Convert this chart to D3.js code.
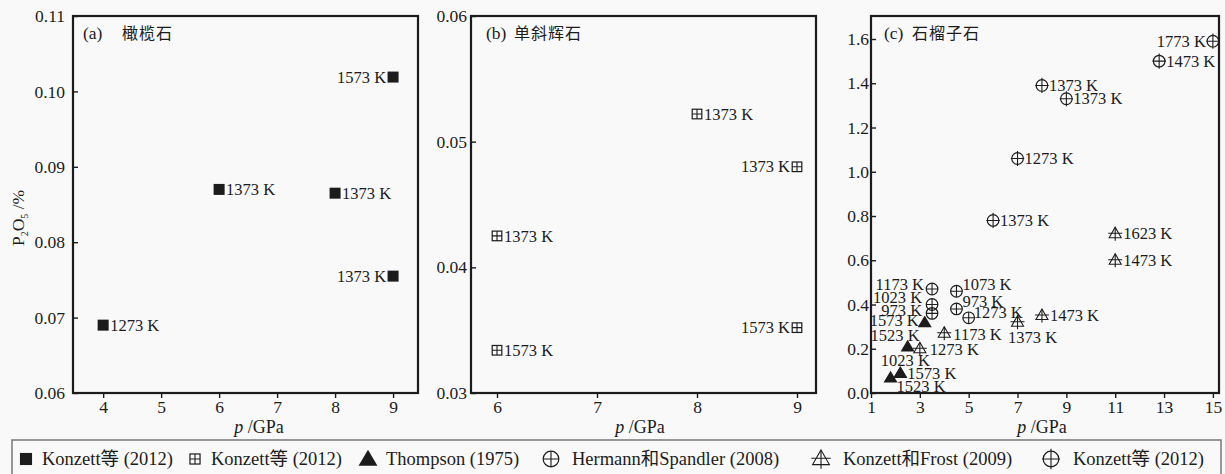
<!DOCTYPE html>
<html>
<head>
<meta charset="utf-8">
<script src="https://cdn.jsdelivr.net/npm/d3@7"></script>
<style>
    html, body { margin: 0; padding: 0; background: #f9f9f9; }
    svg { display: block; }
    text { font-family: "Liberation Serif", "Times New Roman", Times, "DejaVu Serif", "Noto Sans CJK SC", serif; fill: #1c1c1c; }
    .cjk { font-family: "Noto Sans CJK SC", sans-serif; }
</style>
</head>
<body>
<div id="chart"></div>
<script>
// ---- data (p in GPa, P2O5 in wt%) ----
var olivineKonzett = [
    { p: 4, v: 0.069, t: '1273 K' },
    { p: 6, v: 0.0870, t: '1373 K' },
    { p: 8, v: 0.0865, t: '1373 K' },
    { p: 9, v: 0.1019, t: '1573 K' },
    { p: 9, v: 0.0755, t: '1373 K' }
];
var cpxKonzett = [
    { p: 8, v: 0.0522, t: '1373 K' },
    { p: 9, v: 0.0480, t: '1373 K' },
    { p: 6, v: 0.0425, t: '1373 K' },
    { p: 9, v: 0.0352, t: '1573 K' },
    { p: 6, v: 0.0334, t: '1573 K' }
];
var garnetThompson = [
    { p: 3.2, v: 0.32, t: '1573 K' },
    { p: 2.5, v: 0.21, t: '1523 K' },
    { p: 2.2, v: 0.09, t: '1023 K' },
    { p: 2.2, v: 0.09, t: '1573 K' },
    { p: 1.8, v: 0.07, t: '1523 K' }
];
var garnetHermann = [
    { p: 3.5, v: 0.47, t: '1173 K' },
    { p: 3.5, v: 0.40, t: '1023 K' },
    { p: 3.5, v: 0.36, t: '973 K' },
    { p: 4.5, v: 0.46, t: '1073 K' },
    { p: 4.5, v: 0.38, t: '973 K' },
    { p: 5.0, v: 0.34, t: '1273 K' }
];
var garnetKonzettFrost = [
    { p: 3, v: 0.20, t: '1273 K' },
    { p: 4, v: 0.27, t: '1173 K' },
    { p: 7, v: 0.32, t: '1373 K' },
    { p: 8, v: 0.35, t: '1473 K' },
    { p: 11, v: 0.72, t: '1623 K' },
    { p: 11, v: 0.60, t: '1473 K' }
];
var garnetKonzett = [
    { p: 15, v: 1.59, t: '1773 K' },
    { p: 12.8, v: 1.50, t: '1473 K' },
    { p: 8, v: 1.39, t: '1373 K' },
    { p: 9, v: 1.33, t: '1373 K' },
    { p: 7, v: 1.06, t: '1273 K' },
    { p: 6, v: 0.78, t: '1373 K' }
];

var ticksA = [4, 5, 6, 7, 8, 9];
var ticksB = [6, 7, 8, 9];
var ticksC = [1, 3, 5, 7, 9, 11, 13, 15];
var yTicksA = [0.06, 0.07, 0.08, 0.09, 0.10, 0.11];
var yTicksB = [0.03, 0.04, 0.05, 0.06];
var yTicksC = [0, 0.2, 0.4, 0.6, 0.8, 1.0, 1.2, 1.4, 1.6];

var legendNames = ['Konzett等 (2012)', 'Konzett等 (2012)', 'Thompson (1975)',
    'Hermann和Spandler (2008)', 'Konzett和Frost (2009)', 'Konzett等 (2012)'];

// label placement: [anchor, dx, dy] relative to marker centre
var R = ['start', 7, 0], L = ['end', -7, 0];
var placeOl = [R, R, R, L, L];
var placeCpx = [R, L, R, L, R];
var placeTh = [['end', -6, -2], ['end', 12, -11], ['middle', 5, -13], ['start', 7, 0], ['start', 6, 9]];
var placeHe = [['end', -8, -5], ['end', -10, -7], ['end', -10, -3], ['start', 6, -7], ['start', 6, -8], ['start', 5, -5]];
var placeKF = [['start', 10, 1], ['start', 9, 1], ['middle', 15, 15], ['start', 8, 0], ['start', 8, 0], ['start', 8, 0]];
var placeKo = [L, R, R, R, R, R];

var W = 1225, H = 474;
var plotTop = 16, plotBottom = 393;
var serif = '"Liberation Serif", "Times New Roman", Times, "DejaVu Serif", serif';

var svg = d3.select('#chart').append('svg').attr('width', W).attr('height', H);

// marker shapes
function drawMarker (g, type, s) {
    s = s || 1;
    var ink = '#1c1c1c';
    if (type === 'sq') {
        g.append('rect').attr('x', -5.5 * s).attr('y', -5.5 * s).attr('width', 11 * s).attr('height', 11 * s).attr('fill', ink);
    } else if (type === 'sqplus') {
        var h = 4.8 * s;
        g.append('rect').attr('x', -h).attr('y', -h).attr('width', 2 * h).attr('height', 2 * h)
            .attr('fill', 'none').attr('stroke', ink).attr('stroke-width', 1.2);
        g.append('path').attr('d', 'M' + (-h) + ',0H' + h + 'M0,' + (-h) + 'V' + h)
            .attr('stroke', ink).attr('stroke-width', 1.1);
    } else if (type === 'tri') {
        var w = 7 * s;
        g.append('path').attr('d', 'M0,' + (-6.8 * s) + 'L' + w + ',' + (5 * s) + 'L' + (-w) + ',' + (5 * s) + 'Z').attr('fill', ink);
    } else if (type === 'cplus' || type === 'cplus2') {
        var r = 5.8 * s, e = type === 'cplus2' ? 1.8 * s : 0;
        g.append('circle').attr('r', r).attr('fill', 'none').attr('stroke', ink).attr('stroke-width', 1.2);
        g.append('path').attr('d', 'M' + (-r - e * 0.5) + ',0H' + (r + e * 0.5) + 'M0,' + (-r - e) + 'V' + (r + e))
            .attr('stroke', ink).attr('stroke-width', 1.1);
    } else if (type === 'triplus') {
        var a = 6 * s;
        g.append('path').attr('d', 'M0,' + (-6.5 * s) + 'L' + a + ',' + (4 * s) + 'L' + (-a) + ',' + (4 * s) + 'Z')
            .attr('fill', 'none').attr('stroke', ink).attr('stroke-width', 1.1);
        g.append('path').attr('d', 'M' + (-7 * s) + ',' + (-0.5 * s) + 'H' + (7 * s) + 'M0,' + (-6.5 * s) + 'V' + (7 * s))
            .attr('stroke', ink).attr('stroke-width', 1.1);
    }
}

var panels = [
    { x0: 73, x1: 418, xd: [3.48, 9.43], yd: [0.06, 0.11], xt: ticksA, yt: yTicksA, fmt: '.2f', pad: 8,
      title: '(a)', name: '橄榄石', titleX: 83, nameX: 122, axisX: 259,
      series: [{ data: olivineKonzett, m: 'sq', place: placeOl }] },
    { x0: 471, x1: 816, xd: [5.74, 9.19], yd: [0.03, 0.06], xt: ticksB, yt: yTicksB, fmt: '.2f', pad: 4,
      title: '(b)', name: '单斜辉石', titleX: 486, nameX: 514, axisX: 640,
      series: [{ data: cpxKonzett, m: 'sqplus', place: placeCpx }] },
    { x0: 871, x1: 1219, xd: [1, 15.25], yd: [0, 1.704], xt: ticksC, yt: yTicksC, fmt: '.1f', pad: 2,
      title: '(c)', name: '石榴子石', titleX: 884, nameX: 912, axisX: 1042,
      series: [
          { data: garnetKonzettFrost, m: 'triplus', place: placeKF },
          { data: garnetHermann, m: 'cplus', place: placeHe },
          { data: garnetKonzett, m: 'cplus2', place: placeKo },
          { data: garnetThompson, m: 'tri', place: placeTh }
      ] }
];

panels.forEach(function (P) {
    var x = d3.scaleLinear().domain(P.xd).range([P.x0, P.x1]);
    var y = d3.scaleLinear().domain(P.yd).range([plotBottom, plotTop]);
    var g = svg.append('g');

    var xa = g.append('g').attr('transform', 'translate(0,' + plotBottom + ')')
        .call(d3.axisBottom(x).tickValues(P.xt).tickSize(5).tickPadding(3).tickSizeOuter(0).tickFormat(d3.format('d')));
    var ya = g.append('g').attr('transform', 'translate(' + P.x0 + ',0)')
        .call(d3.axisLeft(y).tickValues(P.yt).tickSize(-5).tickPadding(P.pad).tickSizeOuter(0).tickFormat(d3.format(P.fmt)));
    [xa, ya].forEach(function (a) {
        a.attr('font-family', serif).attr('font-size', 17.5);
        a.select('.domain').remove();
        a.selectAll('line').attr('stroke', '#1c1c1c').attr('stroke-width', 1.4);
        a.selectAll('text').attr('fill', '#1c1c1c');
    });

    g.append('rect').attr('x', P.x0).attr('y', plotTop).attr('width', P.x1 - P.x0).attr('height', plotBottom - plotTop)
        .attr('fill', 'none').attr('stroke', '#1c1c1c').attr('stroke-width', 2.2);

    g.append('text').attr('x', P.titleX).attr('y', 39).attr('font-size', 17.5).text(P.title);
    g.append('text').attr('class', 'cjk').attr('x', P.nameX).attr('y', 39).attr('font-size', 16)
        .attr('letter-spacing', 1).text(P.name);

    var xt = g.append('text').attr('x', P.axisX).attr('y', 433).attr('font-size', 18).attr('text-anchor', 'middle');
    xt.append('tspan').attr('font-style', 'italic').text('p');
    xt.append('tspan').text(' /GPa');

    P.series.forEach(function (S) {
        S.data.forEach(function (d, i) {
            var cx = x(d.p), cy = y(d.v);
            var mg = g.append('g').attr('transform', 'translate(' + cx + ',' + cy + ')');
            drawMarker(mg, S.m);
            var pl = S.place[i];
            g.append('text')
                .attr('x', cx + pl[1]).attr('y', cy + pl[2]).attr('dy', '0.34em')
                .attr('text-anchor', pl[0]).attr('font-size', 16.5)
                .text(d.t);
        });
    });
});

// y axis title
var yt = svg.append('text').attr('transform', 'translate(24,218) rotate(-90)')
    .attr('text-anchor', 'middle').attr('font-size', 17.5);
yt.append('tspan').text('P');
yt.append('tspan').attr('font-size', 10).attr('dy', 4).text('2');
yt.append('tspan').attr('dy', -4).text('O');
yt.append('tspan').attr('font-size', 10).attr('dy', 4).text('5');
yt.append('tspan').attr('dy', -4).text(' /%');

// legend
var legend = svg.append('g');
legend.append('rect').attr('x', 12).attr('y', 440).attr('width', 1209).attr('height', 45)
    .attr('fill', 'none').attr('stroke', '#777').attr('stroke-width', 1.5);
var legTypes = ['sq', 'sqplus', 'tri', 'cplus', 'triplus', 'cplus2'];
var legSym = [26, 195, 368, 551, 821, 1051];
var legTxt = [42, 211, 386, 572, 843, 1073];
var legScale = [1.1, 1.05, 1.35, 1.35, 1.4, 1.35];
legendNames.forEach(function (name, i) {
    var mg = legend.append('g').attr('transform', 'translate(' + legSym[i] + ',459)');
    drawMarker(mg, legTypes[i], legScale[i]);
    legend.append('text').attr('x', legTxt[i]).attr('y', 465).attr('font-size', 18.5).text(name);
});
</script>
</body>
</html>
